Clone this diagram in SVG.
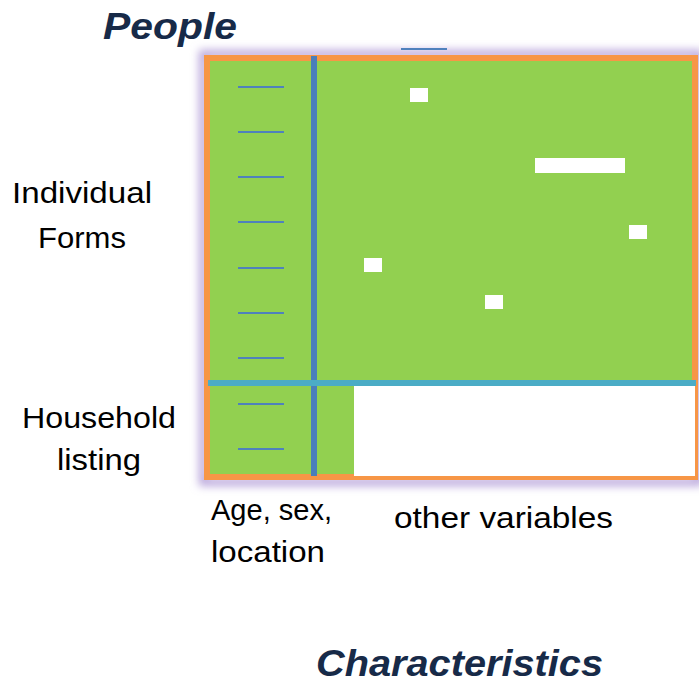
<svg xmlns="http://www.w3.org/2000/svg" width="699" height="687" viewBox="0 0 699 687">
  <defs>
    <style>
      .title { font-family: "Liberation Sans", Arial, sans-serif; font-weight: bold; font-style: italic; font-size: 37px; fill: #172a48; }
      .label { font-family: "Liberation Sans", Arial, sans-serif; font-size: 30px; fill: #000000; }
      .dash { stroke: #4f81bd; stroke-width: 2; }
      .hole { fill: #ffffff; }
    </style>
    <filter id="glow" x="-10%" y="-10%" width="120%" height="120%">
      <feGaussianBlur stdDeviation="4"/>
    </filter>
  </defs>
  <rect width="699" height="687" fill="#ffffff"/>

  <g id="titles">
    <text class="title" x="103" y="39" textLength="134" lengthAdjust="spacingAndGlyphs">People</text>
    <text class="title" x="316" y="676" textLength="287" lengthAdjust="spacingAndGlyphs">Characteristics</text>
  </g>

  <g id="matrix">
    <rect x="203" y="54" width="496" height="428" fill="none" stroke="#b9a6dc" stroke-width="8" filter="url(#glow)"/>
    <rect x="207" y="58" width="488" height="419" fill="#92d050" stroke="#f79646" stroke-width="6"/>
    <rect x="354" y="386" width="341" height="90" fill="#ffffff"/>
    <line x1="314" y1="56" x2="314" y2="476" stroke="#4a7ebb" stroke-width="6"/>
    <line x1="208" y1="383" x2="696" y2="383" stroke="#4bacc6" stroke-width="6"/>
  </g>

  <g id="record-dashes">
    <line class="dash" x1="238" y1="87" x2="284" y2="87"/>
    <line class="dash" x1="238" y1="132" x2="284" y2="132"/>
    <line class="dash" x1="238" y1="177" x2="284" y2="177"/>
    <line class="dash" x1="238" y1="222" x2="284" y2="222"/>
    <line class="dash" x1="238" y1="268" x2="284" y2="268"/>
    <line class="dash" x1="238" y1="313" x2="284" y2="313"/>
    <line class="dash" x1="238" y1="358" x2="284" y2="358"/>
    <line class="dash" x1="238" y1="404" x2="284" y2="404"/>
    <line class="dash" x1="238" y1="449" x2="284" y2="449"/>
    <line class="dash" x1="401" y1="49" x2="447" y2="49"/>
  </g>

  <g id="missing-cells">
    <rect class="hole" x="410" y="88" width="18" height="14"/>
    <rect class="hole" x="535" y="158" width="90" height="15"/>
    <rect class="hole" x="629" y="225" width="18" height="14"/>
    <rect class="hole" x="364" y="258" width="18" height="14"/>
    <rect class="hole" x="485" y="295" width="18" height="14"/>
  </g>

  <g id="labels">
    <text class="label" x="12" y="203" textLength="140" lengthAdjust="spacingAndGlyphs">Individual</text>
    <text class="label" x="38" y="248" textLength="88" lengthAdjust="spacingAndGlyphs">Forms</text>
    <text class="label" x="22" y="428" textLength="154" lengthAdjust="spacingAndGlyphs">Household</text>
    <text class="label" x="57" y="470" textLength="84" lengthAdjust="spacingAndGlyphs">listing</text>
    <text class="label" x="211" y="520" textLength="121" lengthAdjust="spacingAndGlyphs">Age, sex,</text>
    <text class="label" x="211" y="562" textLength="114" lengthAdjust="spacingAndGlyphs">location</text>
    <text class="label" x="394" y="528" textLength="219" lengthAdjust="spacingAndGlyphs">other variables</text>
  </g>
</svg>
